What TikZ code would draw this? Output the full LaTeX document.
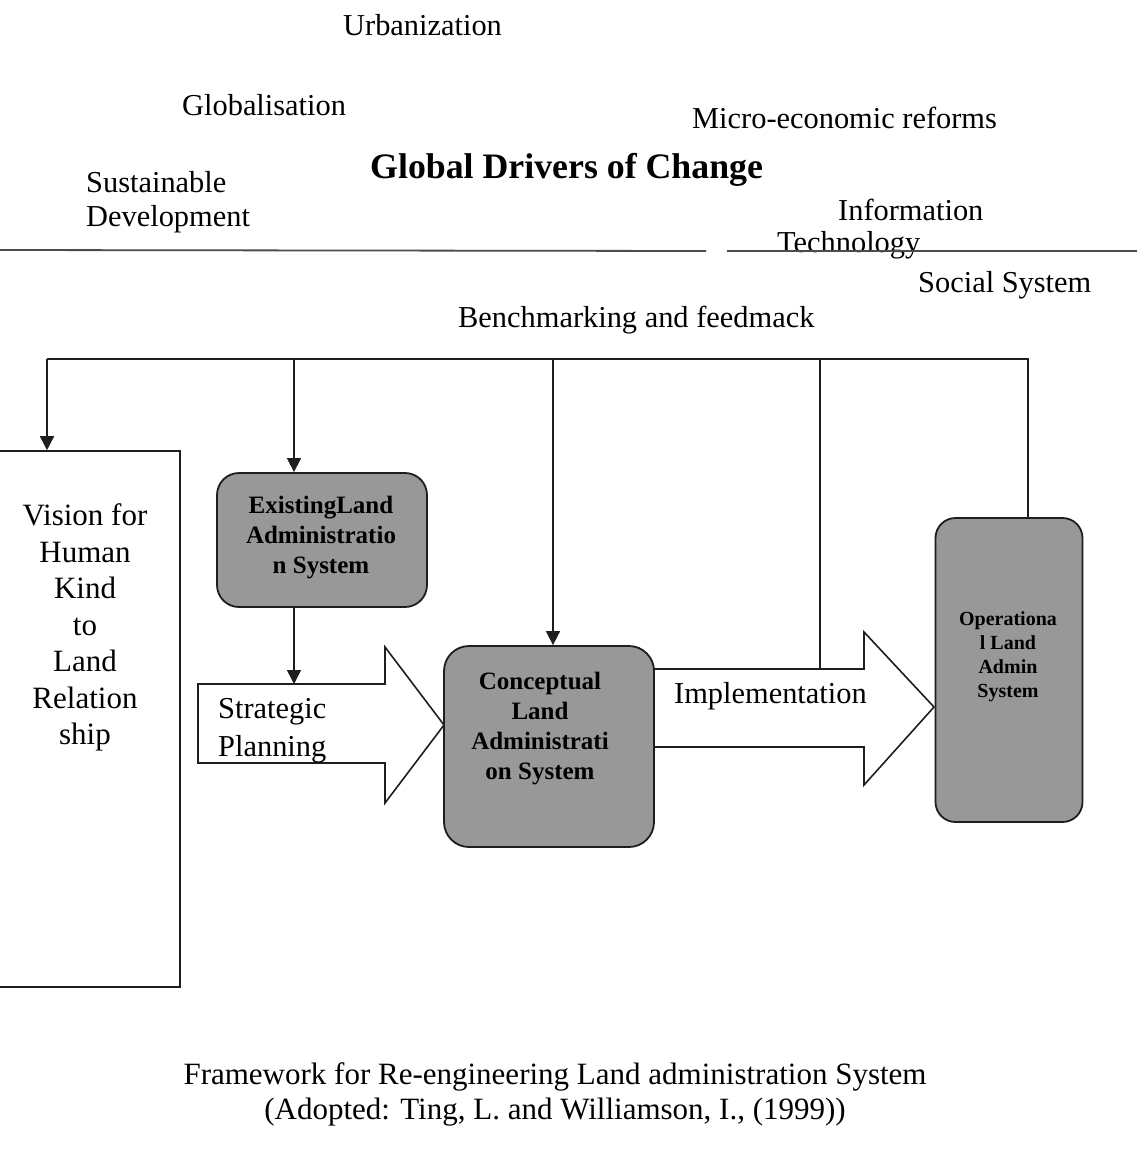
\documentclass[tikz,border=0pt]{standalone}
\usepackage{fontspec}
\setmainfont{Liberation Serif}
\usetikzlibrary{arrows.meta}
\definecolor{boxgray}{RGB}{152,152,152}
\definecolor{inkline}{RGB}{30,30,30}
\begin{document}
\begin{tikzpicture}[x=1pt,y=-1pt,
  lbl/.style={inner sep=0pt, anchor=base west, font=\fontsize{30.4}{36}\selectfont},
  title/.style={inner sep=0pt, anchor=base west, font=\fontsize{35.8}{40}\selectfont\bfseries},
  caption/.style={inner sep=0pt, anchor=base, font=\fontsize{31}{36}\selectfont},
  line/.style={draw=inkline, line width=1.6pt},
  arr/.style={line, -{Triangle[length=14pt,width=14pt]}},
  sysbox/.style={draw=inkline, line width=1.8pt, fill=boxgray},
  plainbox/.style={draw=inkline, line width=1.6pt, fill=white},
  boxtext/.style={inner sep=0pt, align=center, font=\fontsize{25}{30}\selectfont\bfseries},
  blockarrow/.style={draw=inkline, line width=1.6pt, fill=white, line join=miter}
]
\useasboundingbox (0,0) rectangle (1137,1157);
\fill[white] (0,0) rectangle (1137,1157);

% global drivers of change
\node[lbl] (urb) at (343,35) {Urbanization};
\node[lbl] (glob) at (182,115) {Globalisation};
\node[lbl] (micro) at (692,128) {Micro-economic reforms};
\node[title] (gdc) at (370,178) {Global Drivers of Change};
\node[lbl] (sust) at (86,192) {Sustainable};
\node[lbl] (dev) at (86,226) {Development};
\node[lbl] (info) at (838,220) {Information};
\node[lbl] (tech) at (777,252) {Technology};
\node[lbl] (soc) at (918,292) {Social System};
\node[lbl] (bench) at (458,327) {Benchmarking and feedmack};

% divider under the drivers
\draw[draw=black!70, line width=1.8pt] (0,250) -- (706,251);
\draw[draw=black!70, line width=1.8pt] (727,251) -- (1137,251);

% block arrows
\draw[blockarrow] (198,684) -- (385,684) -- (385,647) -- (444,725) -- (385,803) -- (385,763) -- (198,763) -- cycle;
\node[lbl] (strat) at (218,718) {Strategic};
\node[lbl] (plan) at (218,756) {Planning};
\draw[blockarrow] (654,669) -- (864,669) -- (864,632) -- (934,707) -- (864,785) -- (864,747) -- (654,747);
\node[lbl] (impl) at (674,703) {Implementation};

% vision box
\node[plainbox, minimum width=190pt, minimum height=536pt] (vision) at (85,719) {};
\node[inner sep=0pt, align=center, font=\fontsize{31}{36.5}\selectfont] (visiontxt) at (85,627.5)
  {Vision for\\Human\\Kind\\to\\Land\\Relation\\ship};

% system boxes
\node[sysbox, rounded corners=22pt, minimum width=210pt, minimum height=134pt] (exist) at (322,540) {};
\node[boxtext] (existtxt) at (321,538) {ExistingLand\\Administratio\\n System};
\node[sysbox, rounded corners=25pt, minimum width=210pt, minimum height=201pt] (concept) at (549,746.5) {};
\node[boxtext] (concepttxt) at (540,729) {Conceptual\\Land\\Administrati\\on System};
\node[sysbox, rounded corners=20pt, minimum width=147pt, minimum height=304pt] (oper) at (1009,670) {};
\node[boxtext, font=\fontsize{20}{24}\selectfont\bfseries] (opertxt) at (1008,657) {Operationa\\l Land\\Admin\\System};

% feedback loop
\coordinate (fbR) at (1028,359);
\coordinate (fbL) at (47,359);
\coordinate (fbE) at (294,359);
\coordinate (fbC) at (553,359);
\coordinate (fbI) at (820,359);
\coordinate (stratTop) at (294,684);
\coordinate (implTop) at (820,669);
\draw[line] (fbR |- oper.north) -- (fbR) -- (fbL);
\draw[arr] (fbL) -- (fbL |- vision.north);
\draw[arr] (fbE) -- (fbE |- exist.north);
\draw[arr] (fbC) -- (fbC |- concept.north);
\draw[line] (fbI) -- (implTop);
\draw[arr] (fbE |- exist.south) -- (stratTop);

% caption
\node[caption] (cap1) at (555,1084) {Framework for Re-engineering Land administration System};
\node[caption] (cap2) at (555,1119) {(Adopted: Ting, L. and Williamson, I., (1999))};
\end{tikzpicture}
\end{document}
